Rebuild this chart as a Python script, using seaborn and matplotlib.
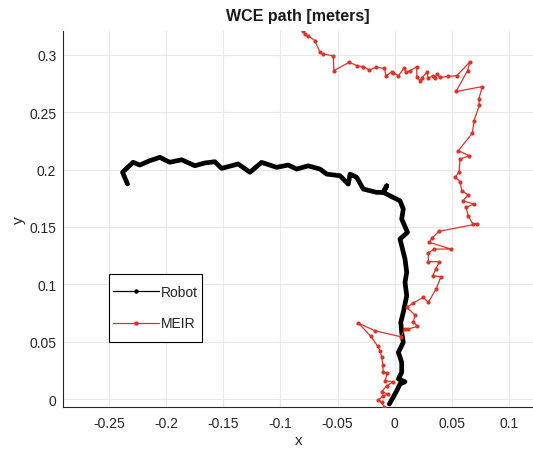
import matplotlib
matplotlib.use("Agg")
import matplotlib.pyplot as plt
from matplotlib.lines import Line2D
from matplotlib.patches import Rectangle
import seaborn as sns
import pandas as pd

# Robot path (x, y) in meters
robot_x = [-0.0047, 0.0018, 0.0046, 0.0090, 0.0032, 0.0061, 0.0061, 0.0032, 0.0075, 0.0061,
           0.0053, 0.0075, 0.0105, 0.0090, 0.0105, 0.0090, 0.0061, 0.0046, 0.0112, 0.0061,
           0.0075, 0.0046, -0.0041, -0.0100, -0.0070, -0.0100, -0.0158, -0.0275, -0.0333, -0.0391,
           -0.0406, -0.0479, -0.0595, -0.0654, -0.0757, -0.0858, -0.0932, -0.1033, -0.1165, -0.1267,
           -0.1370, -0.1515, -0.1574, -0.1661, -0.1749, -0.1865, -0.1968, -0.2055, -0.2143, -0.2230,
           -0.2289, -0.2382, -0.2338]
robot_y = [-0.0041, 0.0075, 0.0133, 0.0153, 0.0177, 0.0235, 0.0322, 0.0409, 0.0496, 0.0583,
           0.0670, 0.0757, 0.0902, 0.1018, 0.1105, 0.1221, 0.1337, 0.1395, 0.1453, 0.1569,
           0.1656, 0.1728, 0.1771, 0.1801, 0.1858, 0.1801, 0.1801, 0.1830, 0.1932, 0.1960,
           0.1873, 0.1946, 0.1960, 0.2004, 0.2032, 0.2004, 0.2039, 0.2019, 0.2062, 0.1976,
           0.2048, 0.2010, 0.2068, 0.2057, 0.2033, 0.2085, 0.2063, 0.2106, 0.2077, 0.2039,
           0.2063, 0.1976, 0.1874]

# MEIR path (x, y) in meters
meir_x = [-0.0091, -0.0114, -0.0144, -0.0100, -0.0056, -0.0114, -0.0070, -0.0012, -0.0085, -0.0065,
          -0.0100, -0.0105, -0.0114, -0.0129, -0.0149, -0.0208, -0.0319, -0.0173, 0.0053, 0.0090,
          0.0119, 0.0198, 0.0163, 0.0178, 0.0105, 0.0163, 0.0250, 0.0294, 0.0362, 0.0405,
          0.0333, 0.0359, 0.0391, 0.0294, 0.0294, 0.0344, 0.0493, 0.0303, 0.0324, 0.0388,
          0.0718, 0.0683, 0.0644, 0.0624, 0.0694, 0.0595, 0.0644, 0.0587, 0.0572, 0.0531,
          0.0563, 0.0572, 0.0653, 0.0557, 0.0680, 0.0694, 0.0741, 0.0736, 0.0767, 0.0537,
          0.0637, 0.0659, 0.0543, 0.0469, 0.0397, 0.0368, 0.0353, 0.0333, 0.0294, 0.0280,
          0.0236, 0.0222, 0.0193, 0.0193, 0.0134, 0.0099, 0.0081, 0.0032, -0.0012, -0.0026,
          -0.0076, -0.0091, -0.0166, -0.0222, -0.0275, -0.0327, -0.0398, -0.0532, -0.0538, -0.0630,
          -0.0654, -0.0698, -0.0757, -0.0785, -0.0800]
meir_y = [-0.0070, -0.0026, -0.0006, 0.0031, 0.0046, 0.0066, 0.0118, 0.0153, 0.0162, 0.0229,
          0.0235, 0.0301, 0.0366, 0.0423, 0.0461, 0.0548, 0.0664, 0.0597, 0.0545, 0.0612,
          0.0612, 0.0635, 0.0675, 0.0734, 0.0801, 0.0838, 0.0888, 0.0844, 0.0960, 0.1067,
          0.1076, 0.1134, 0.1198, 0.1198, 0.1273, 0.1308, 0.1308, 0.1366, 0.1401, 0.1462,
          0.1526, 0.1526, 0.1598, 0.1671, 0.1700, 0.1728, 0.1778, 0.1816, 0.1894, 0.1932,
          0.1981, 0.2091, 0.2120, 0.2164, 0.2318, 0.2425, 0.2561, 0.2614, 0.2722, 0.2679,
          0.2860, 0.2938, 0.2816, 0.2811, 0.2802, 0.2831, 0.2794, 0.2816, 0.2794, 0.2846,
          0.2794, 0.2773, 0.2802, 0.2895, 0.2860, 0.2846, 0.2881, 0.2816, 0.2840, 0.2851,
          0.2816, 0.2881, 0.2889, 0.2866, 0.2895, 0.2903, 0.2933, 0.2860, 0.2990, 0.3005,
          0.3020, 0.3121, 0.3164, 0.3179, 0.3208]

x_ticks = [-0.25, -0.2, -0.15, -0.1, -0.05, 0, 0.05, 0.1]
x_ticklabels = ["-0.25", "-0.2", "-0.15", "-0.1", "-0.05", "0", "0.05", "0.1"]
y_ticks = [0, 0.05, 0.1, 0.15, 0.2, 0.25, 0.3]
y_ticklabels = ["0", "0.05", "0.1", "0.15", "0.2", "0.25", "0.3"]

sns.set_style("white")
plt.rcParams["font.family"] = ["Liberation Sans", "DejaVu Sans"]

RED = "#dd3328"
W, H = 533, 452
fig = plt.figure(figsize=(5.33, 4.52), dpi=100)
ax = fig.add_axes([63.3 / W, 1 - 407.7 / H, 1 - 63.3 / W, (407.7 - 31.7) / H])

robot = pd.DataFrame({"x": robot_x, "y": robot_y})
meir = pd.DataFrame({"x": meir_x, "y": meir_y})

sns.lineplot(data=robot, x="x", y="y", sort=False, estimator=None, ax=ax,
             color="black", linewidth=3.4, solid_joinstyle="round", solid_capstyle="round",
             zorder=3)
sns.lineplot(data=meir, x="x", y="y", sort=False, estimator=None, ax=ax,
             color=RED, linewidth=0.9, marker="o", markersize=3.0, markeredgewidth=0,
             zorder=4)

ax.set_xlim(-0.290, 0.121)
ax.set_ylim(-0.0064, 0.3208)
ax.set_xticks(x_ticks)
ax.set_xticklabels(x_ticklabels)
ax.set_yticks(y_ticks)
ax.set_yticklabels(y_ticklabels)
ax.grid(True, color="#e8e8e8", linewidth=0.8)
ax.set_axisbelow(True)
for s in ["top", "right"]:
    ax.spines[s].set_visible(False)
for s in ["left", "bottom"]:
    ax.spines[s].set_color("#262626")
    ax.spines[s].set_linewidth(0.8)
ax.tick_params(direction="in", length=4, width=0.8, color="#262626",
               labelsize=10, labelcolor="#262626", pad=5)
ax.tick_params(axis="x", pad=7)

ax.set_title("WCE path [meters]", fontsize=11.5, fontweight="bold", pad=8, color="#1a1a1a")
ax.set_xlabel("x", fontsize=11, color="#262626", labelpad=2)
ax.set_ylabel("y", fontsize=11, color="#262626", labelpad=2.5)

# Legend box (plain square frame, like MATLAB's legend)
frame = Rectangle((109.3 / W, 1 - 343 / H), (202 - 109.3) / W, (343 - 274.7) / H,
                  transform=fig.transFigure, facecolor="white", edgecolor="black",
                  linewidth=0.8, zorder=9, clip_on=False)
ax.add_patch(frame)
handles = [Line2D([0], [0], color="black", lw=0.9, marker="o", markersize=2.2),
           Line2D([0], [0], color=RED, lw=0.9, marker="o", markersize=2.2)]
leg = ax.legend(handles, ["Robot", "MEIR"], loc="upper left",
                bbox_to_anchor=(113 / W, 1 - 286 / H), bbox_transform=fig.transFigure,
                borderaxespad=0, frameon=False, fontsize=10, handlelength=3.3,
                handletextpad=0.15, labelspacing=1.25, borderpad=0)
leg.set_zorder(10)

fig.savefig("out.png", dpi=100)
